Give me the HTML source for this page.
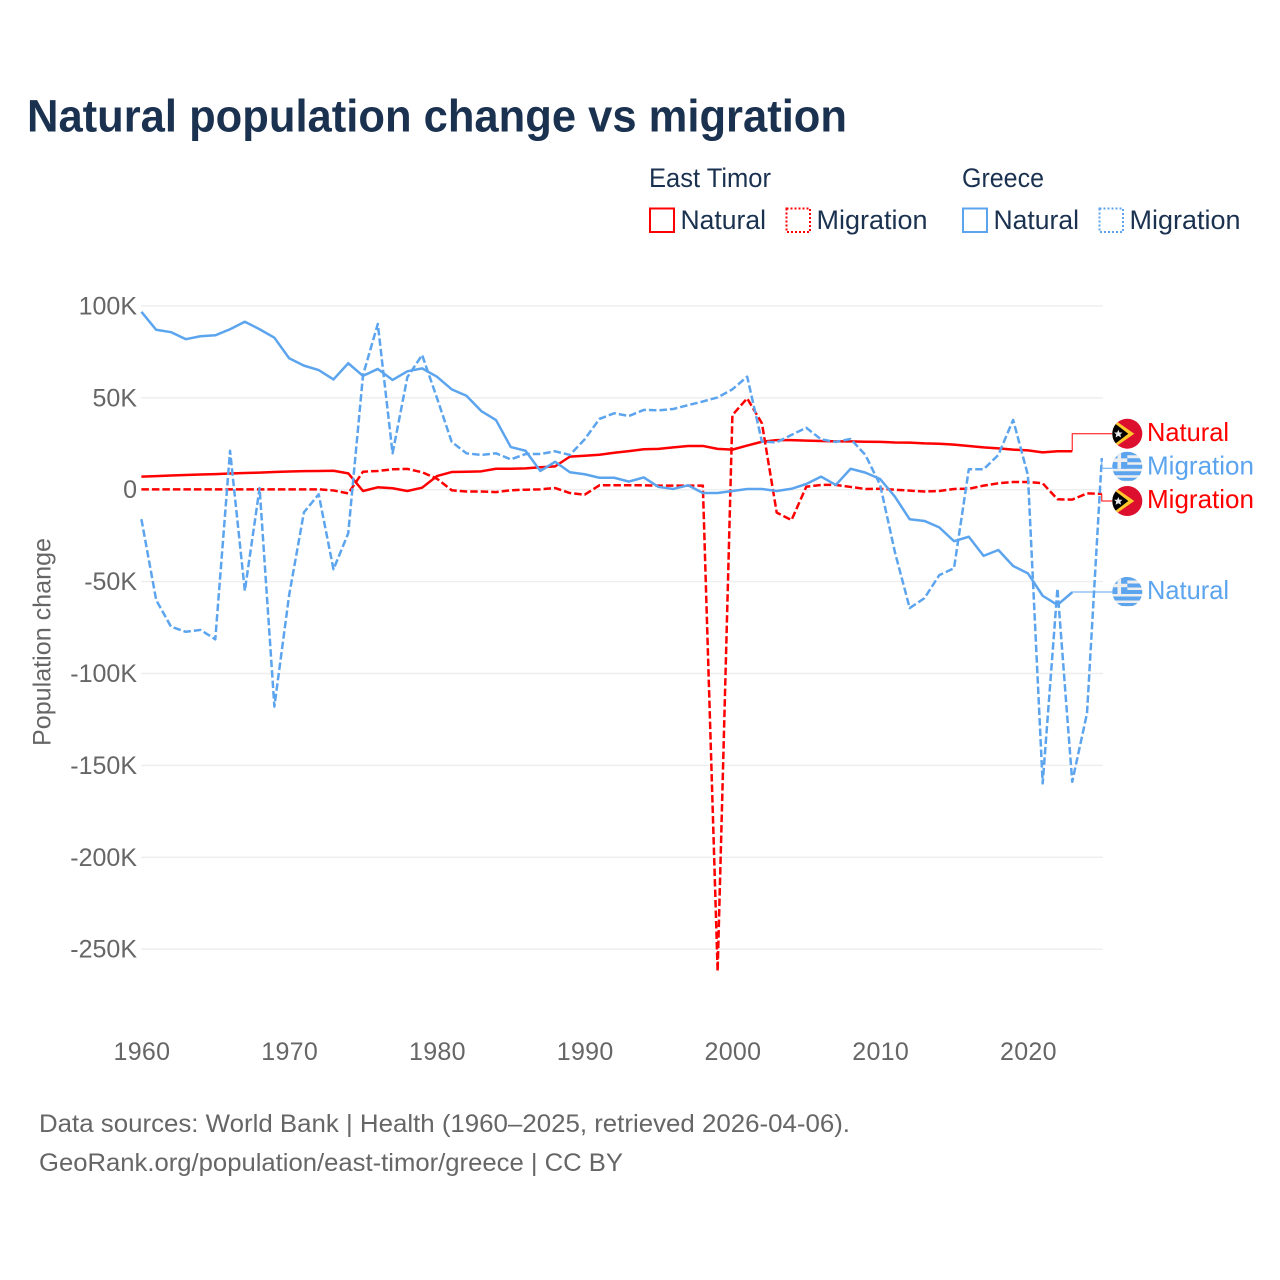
<!DOCTYPE html>
<html lang="en">
<head>
<meta charset="utf-8">
<title>Natural population change vs migration</title>
<style>
  html, body { margin: 0; padding: 0; background: #ffffff; }
  svg { display: block; font-family: "Liberation Sans", "DejaVu Sans", sans-serif; }
</style>
</head>
<body>
<svg id="chart" xmlns="http://www.w3.org/2000/svg" width="1280" height="1280" viewBox="0 0 1280 1280">
  <rect width="1280" height="1280" fill="#ffffff"/>
  <text x="27" y="131.5" font-size="45" font-weight="700" fill="#1a3150" textLength="820" lengthAdjust="spacingAndGlyphs">Natural population change vs migration</text>

  <g font-size="26.5" fill="#1a3150">
    <text x="649" y="187" textLength="122" lengthAdjust="spacingAndGlyphs">East Timor</text>
    <text x="962" y="187" textLength="82" lengthAdjust="spacingAndGlyphs">Greece</text>
    <g>
      <rect x="650" y="208.5" width="24" height="23.5" fill="none" stroke="#ff0000" stroke-width="2"/>
      <text x="680.5" y="229" textLength="85.5" lengthAdjust="spacingAndGlyphs">Natural</text>
    </g>
    <g>
      <rect x="786.5" y="208.5" width="23.5" height="23.5" fill="none" stroke="#ff0000" stroke-width="2" stroke-dasharray="2 2"/>
      <text x="816.5" y="229" textLength="111" lengthAdjust="spacingAndGlyphs">Migration</text>
    </g>
    <g>
      <rect x="963" y="208.5" width="24" height="23.5" fill="none" stroke="#5ca5ee" stroke-width="2"/>
      <text x="993.5" y="229" textLength="85.5" lengthAdjust="spacingAndGlyphs">Natural</text>
    </g>
    <g>
      <rect x="1099.5" y="208.5" width="23.5" height="23.5" fill="none" stroke="#5ca5ee" stroke-width="2" stroke-dasharray="2 2"/>
      <text x="1129.5" y="229" textLength="111" lengthAdjust="spacingAndGlyphs">Migration</text>
    </g>
  </g>

  <g id="grid"></g>
  <g id="y-ticks" font-size="25" fill="#666666" text-anchor="end"></g>
  <g id="x-ticks" font-size="25" fill="#666666" text-anchor="middle"></g>
  <text transform="translate(50.5 642) rotate(-90)" text-anchor="middle" font-size="25" fill="#666666" textLength="208" lengthAdjust="spacingAndGlyphs">Population change</text>

  <g id="series" fill="none" stroke-linejoin="round"></g>
  <g id="leaders" fill="none" stroke-width="1"></g>

  <defs>
    <clipPath id="flag-clip"><circle cx="0" cy="0" r="15"/></clipPath>
  </defs>

  <g>
    <g transform="translate(1127.3 433.7)" clip-path="url(#flag-clip)">
      <rect x="-16" y="-16" width="32" height="32" fill="#dc0f2e"/>
      <polygon points="-16,-16 7,0 -16,16" fill="#ffc72c"/>
      <polygon points="-16,-13 1,0 -16,13" fill="#000000"/>
      <polygon points="-9,-4 -7.8,-1.2 -4.8,-1.2 -7,0.8 -6.2,3.8 -9,2.2 -11.8,3.8 -11,0.8 -13.2,-1.2 -10.2,-1.2" fill="#e8e8e8"/>
    </g>
    <text x="1147" y="441" font-size="26" fill="#ff0000" textLength="82" lengthAdjust="spacingAndGlyphs">Natural</text>
  </g>
  <g>
    <g transform="translate(1127.3 466.7)" clip-path="url(#flag-clip)">
      <rect x="-16" y="-16" width="32" height="32" fill="#eeeeee"/>
      <path d="M-16 -15h32v3.5h-32zM-2 -8.5h18v4h-18zM-16 -2h32v4h-32zM-16 4.5h32v4h-32zM-16 11h32v3h-32z" fill="#5ca5ee"/>
      <rect x="-16" y="-15" width="16" height="17" fill="#5ca5ee"/>
      <path d="M-9.8 -15h3.6v17h-3.6zM-16 -8.3h16v3.6h-16z" fill="#eeeeee"/>
    </g>
    <text x="1147" y="474.5" font-size="26" fill="#5ca5ee" textLength="107" lengthAdjust="spacingAndGlyphs">Migration</text>
  </g>
  <g>
    <g transform="translate(1127.3 501)" clip-path="url(#flag-clip)">
      <rect x="-16" y="-16" width="32" height="32" fill="#dc0f2e"/>
      <polygon points="-16,-16 7,0 -16,16" fill="#ffc72c"/>
      <polygon points="-16,-13 1,0 -16,13" fill="#000000"/>
      <polygon points="-9,-4 -7.8,-1.2 -4.8,-1.2 -7,0.8 -6.2,3.8 -9,2.2 -11.8,3.8 -11,0.8 -13.2,-1.2 -10.2,-1.2" fill="#e8e8e8"/>
    </g>
    <text x="1147" y="508" font-size="26" fill="#ff0000" textLength="107" lengthAdjust="spacingAndGlyphs">Migration</text>
  </g>
  <g>
    <g transform="translate(1127.3 592)" clip-path="url(#flag-clip)">
      <rect x="-16" y="-16" width="32" height="32" fill="#eeeeee"/>
      <path d="M-16 -15h32v3.5h-32zM-2 -8.5h18v4h-18zM-16 -2h32v4h-32zM-16 4.5h32v4h-32zM-16 11h32v3h-32z" fill="#5ca5ee"/>
      <rect x="-16" y="-15" width="16" height="17" fill="#5ca5ee"/>
      <path d="M-9.8 -15h3.6v17h-3.6zM-16 -8.3h16v3.6h-16z" fill="#eeeeee"/>
    </g>
    <text x="1147" y="599" font-size="26" fill="#5ca5ee" textLength="82" lengthAdjust="spacingAndGlyphs">Natural</text>
  </g>

  <g font-size="25" fill="#666666">
    <text x="39" y="1132" textLength="811" lengthAdjust="spacingAndGlyphs">Data sources: World Bank | Health (1960–2025, retrieved 2026-04-06).</text>
    <text x="39" y="1171" textLength="584" lengthAdjust="spacingAndGlyphs">GeoRank.org/population/east-timor/greece | CC BY</text>
  </g>
</svg>

<script>
// Values in thousands of people; index 0 = firstYear.
const firstYear = 1960;
const yTickValues = [100, 50, 0, -50, -100, -150, -200, -250];
const yTickLabels = ["100K", "50K", "0", "-50K", "-100K", "-150K", "-200K", "-250K"];
const xTickYears = [1960, 1970, 1980, 1990, 2000, 2010, 2020];

const timorNatural = [7.1, 7.4, 7.7, 8, 8.3, 8.5, 8.8, 9.1, 9.3, 9.6, 9.9, 10.1, 10.2, 10.3, 8.9, -0.7, 1.3, 0.8, -0.7, 1.1, 7.4, 9.6, 9.8, 10, 11.4, 11.4, 11.6, 12.2, 12.7, 18, 18.5, 19, 20.1, 21, 22, 22.2, 23, 23.8, 23.8, 22.2, 21.8, 24, 26.1, 27, 27, 26.7, 26.5, 26.3, 26.3, 26.1, 26, 25.7, 25.6, 25.2, 25, 24.5, 23.8, 23, 22.5, 21.8, 21.4, 20.3, 20.9, 20.9];
const timorMigration = [0.2, 0.2, 0.2, 0.2, 0.2, 0.2, 0.2, 0.2, 0.2, 0.2, 0.2, 0.2, 0.2, -0.4, -2, 9.8, 10.2, 11.1, 11.3, 9.5, 6, -0.3, -1, -1, -1.3, -0.3, 0, 0.2, 0.9, -1.8, -2.7, 2.4, 2.4, 2.4, 2.4, 2.2, 2.2, 2.2, 2.2, -262, 40.6, 49.7, 36.1, -12.5, -16.5, 1.6, 2.6, 2.6, 1.5, 0.4, 0.5, 0, -0.5, -1, -0.7, 0.4, 0.5, 2.2, 3.5, 4.2, 4.2, 3.5, -5.2, -5.4, -2, -2.3];
const greeceNatural = [96.8, 87, 85.7, 81.9, 83.5, 84, 87.3, 91.4, 87.3, 82.7, 71.5, 67.5, 65.1, 60, 68.8, 61.9, 65.7, 59.7, 64.4, 66, 61.5, 54.6, 51.1, 42.8, 37.9, 23.2, 21.2, 10.2, 15.2, 9.5, 8.4, 6.5, 6.5, 4.4, 6.7, 1.5, 0.4, 2.4, -1.8, -1.8, -0.7, 0.4, 0.4, -0.7, 0.5, 3.1, 7.1, 2.6, 11.4, 9.3, 5.8, -3.8, -16.1, -17, -20.5, -28, -25.6, -36, -32.8, -41.5, -45.5, -57.7, -62.7, -55.8];
const greeceMigration = [-16, -60, -74.5, -77.3, -76.3, -81.4, 21.2, -55, 0.9, -118, -57.3, -12.3, -2.5, -43.3, -23.7, 62.4, 90.2, 19.8, 61.2, 73.3, 50, 26, 19.8, 18.9, 19.8, 16.5, 19.4, 19.4, 20.9, 18.9, 27.4, 38.5, 41.6, 40.1, 43.4, 43.2, 43.9, 46, 48, 50.2, 54.6, 61.5, 26.1, 25.8, 29.8, 33.7, 27.4, 26, 27.6, 18.9, 2.6, -34, -64.4, -59, -46.5, -42.7, 11.1, 11.1, 18.9, 38, 8, -159.8, -53.7, -158.9, -121.7, 17.2];

const SVG_NS = "http://www.w3.org/2000/svg";
function xScale(year) { return 141.4 + (year - 1960) * 14.775; }
function yScale(value) { return 489.7 - value * 1.838; }
function seriesPath(values) {
  return values.map(function (v, i) {
    return (i === 0 ? "M" : "L") + xScale(firstYear + i).toFixed(2) + " " + yScale(v).toFixed(2);
  }).join(" ");
}

const gridGroup = document.getElementById("grid");
const yTickGroup = document.getElementById("y-ticks");
yTickValues.forEach(function (v, i) {
  const line = document.createElementNS(SVG_NS, "line");
  
  
  line.setAttribute("x1", 141);
  line.setAttribute("x2", 1103);
  line.setAttribute("y1", yScale(v));
  line.setAttribute("y2", yScale(v));
  line.setAttribute("stroke", "#eeeeee");
  line.setAttribute("stroke-width", 1.4);
  gridGroup.appendChild(line);

  const label = document.createElementNS(SVG_NS, "text");
  
  
  label.setAttribute("x", 137);
  label.setAttribute("y", yScale(v) + 8.5);
  label.textContent = yTickLabels[i];
  yTickGroup.appendChild(label);
});

const xTickGroup = document.getElementById("x-ticks");
xTickYears.forEach(function (year) {
  const label = document.createElementNS(SVG_NS, "text");
  
  
  label.setAttribute("x", xScale(year) + 0.5);
  label.setAttribute("y", 1060);
  label.setAttribute("letter-spacing", "0.3");
  label.textContent = String(year);
  xTickGroup.appendChild(label);
});

const seriesGroup = document.getElementById("series");
function addLine(values, color, dashed) {
  const path = document.createElementNS(SVG_NS, "path");
  
  
  path.setAttribute("d", seriesPath(values));
  path.setAttribute("stroke", color);
  path.setAttribute("stroke-width", 2.5);
  if (dashed) path.setAttribute("stroke-dasharray", "7.5 3");
  seriesGroup.appendChild(path);
}
addLine(timorNatural, "#ff0000", false);
addLine(timorMigration, "#ff0000", true);
addLine(greeceNatural, "#5ca5ee", false);
addLine(greeceMigration, "#5ca5ee", true);

const leaderGroup = document.getElementById("leaders");
function addLeader(values, labelY, color) {
  const lastX = xScale(firstYear + values.length - 1);
  const lastY = yScale(values[values.length - 1]);
  const path = document.createElementNS(SVG_NS, "path");
  
  
  path.setAttribute("d", "M" + lastX + " " + lastY + " V" + labelY + " H1112");
  path.setAttribute("stroke", color);
  leaderGroup.appendChild(path);
}
addLeader(timorNatural, 433.7, "#ff0000");
addLeader(greeceMigration, 468.3, "#5ca5ee");
addLeader(timorMigration, 501, "#ff0000");
addLeader(greeceNatural, 592, "#5ca5ee");
</script>
</body>
</html>
